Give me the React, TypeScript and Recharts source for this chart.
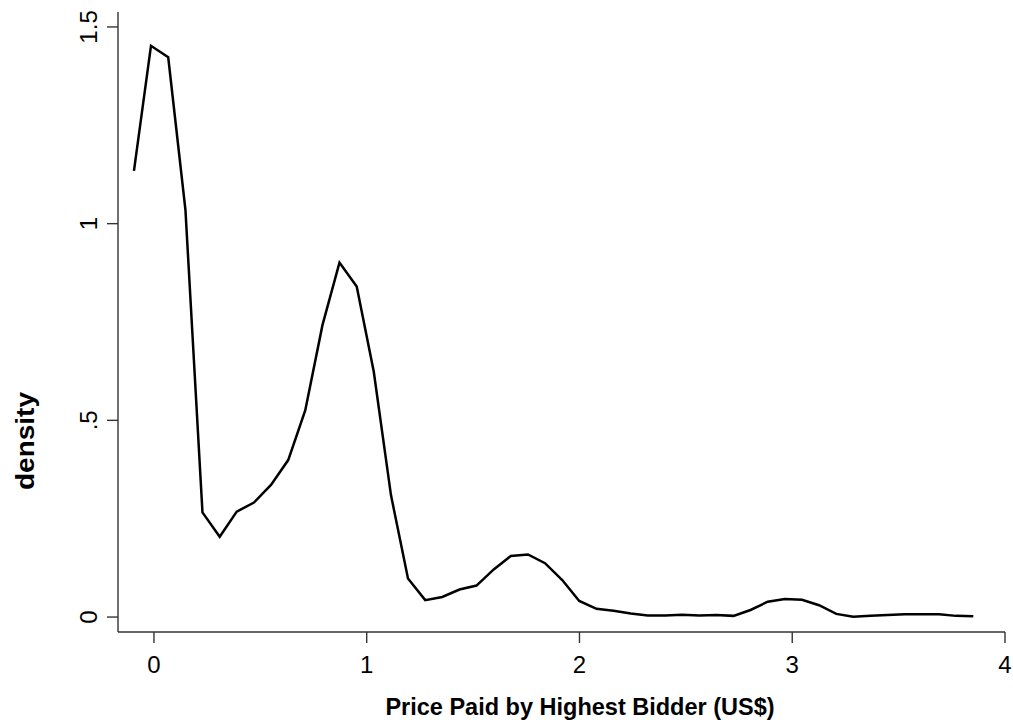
import React from 'react';
import { LineChart, Line, XAxis, YAxis } from 'recharts';

// ── data (kernel density estimate) ────────────────────────────────────────────

const PRICE = [
  -0.094, -0.014, 0.067, 0.148, 0.228, 0.309, 0.389, 0.470, 0.550, 0.631,
  0.711, 0.792, 0.872, 0.953, 1.033, 1.114, 1.194, 1.275, 1.355, 1.436,
  1.516, 1.597, 1.677, 1.758, 1.838, 1.919, 1.999, 2.080, 2.160, 2.241,
  2.321, 2.402, 2.482, 2.563, 2.643, 2.724, 2.804, 2.885, 2.965, 3.046,
  3.126, 3.207, 3.287, 3.368, 3.448, 3.529, 3.609, 3.690, 3.770, 3.851,
];

const DENSITY = [
  1.134, 1.452, 1.423, 1.035, 0.266, 0.204, 0.268, 0.291, 0.336, 0.399,
  0.525, 0.742, 0.901, 0.840, 0.624, 0.310, 0.098, 0.043, 0.051, 0.070,
  0.080, 0.121, 0.155, 0.159, 0.137, 0.094, 0.041, 0.021, 0.016, 0.009,
  0.004, 0.004, 0.006, 0.004, 0.005, 0.003, 0.018, 0.039, 0.046, 0.044,
  0.030, 0.008, 0.001, 0.003, 0.005, 0.007, 0.007, 0.007, 0.003, 0.002,
];

const X_TICKS = [0, 1, 2, 3, 4];
const Y_TICKS = [0, 0.5, 1, 1.5];
const Y_TICK_LABELS: Record<number, string> = { 0: '0', 0.5: '.5', 1: '1', 1.5: '1.5' };

const X_TITLE = 'Price Paid by Highest Bidder (US$)';
const Y_TITLE = 'density';

const data = PRICE.map((p, i) => ({ price: p, density: DENSITY[i] }));

const FONT = '"Liberation Sans", Arial, Helvetica, sans-serif';
const AXIS = '#333333';

// ── custom ticks ──────────────────────────────────────────────────────────────

function XTick({ x, y, payload }: any) {
  return (
    <text x={x} y={y + 28} textAnchor="middle" fontFamily={FONT} fontSize={24} fill="#000">
      {payload.value}
    </text>
  );
}

function YTick({ y, payload }: any) {
  return (
    <text
      transform={`translate(97, ${y}) rotate(-90)`}
      textAnchor="middle"
      fontFamily={FONT}
      fontSize={24}
      fill="#000"
    >
      {Y_TICK_LABELS[payload.value] ?? String(payload.value)}
    </text>
  );
}

export default function App() {
  return (
    <div style={{ position: 'absolute', left: 0, top: 0, width: 1013, height: 725, background: '#fff' }}>
      <LineChart width={1013} height={725} data={data} margin={{ top: 12, right: 8, bottom: 0, left: 0 }}>
        <XAxis
          type="number"
          dataKey="price"
          domain={[-0.169, 4.0]}
          allowDataOverflow
          ticks={X_TICKS}
          height={93}
          tickSize={11}
          tick={<XTick />}
          axisLine={{ stroke: AXIS, strokeWidth: 1.4 }}
          tickLine={{ stroke: AXIS, strokeWidth: 1.4 }}
        />
        <YAxis
          type="number"
          domain={[-0.038, 1.538]}
          allowDataOverflow
          ticks={Y_TICKS}
          width={118}
          tickSize={11}
          tick={<YTick />}
          axisLine={{ stroke: AXIS, strokeWidth: 1.4 }}
          tickLine={{ stroke: AXIS, strokeWidth: 1.4 }}
        />
        <Line
          type="linear"
          dataKey="density"
          stroke="#000"
          strokeWidth={2.5}
          dot={false}
          isAnimationActive={false}
        />
      </LineChart>
      <svg width={1013} height={725} style={{ position: 'absolute', left: 0, top: 0, pointerEvents: 'none' }}>
        <text x={580} y={715} textAnchor="middle" fontFamily={FONT} fontWeight="bold" fontSize={23.5} fill="#000">
          {X_TITLE}
        </text>
        <text
          transform="translate(34, 441) rotate(-90)"
          textAnchor="middle"
          fontFamily={FONT}
          fontWeight="bold"
          fontSize={25}
          textLength={98}
          lengthAdjust="spacingAndGlyphs"
          fill="#000"
        >
          {Y_TITLE}
        </text>
      </svg>
    </div>
  );
}
